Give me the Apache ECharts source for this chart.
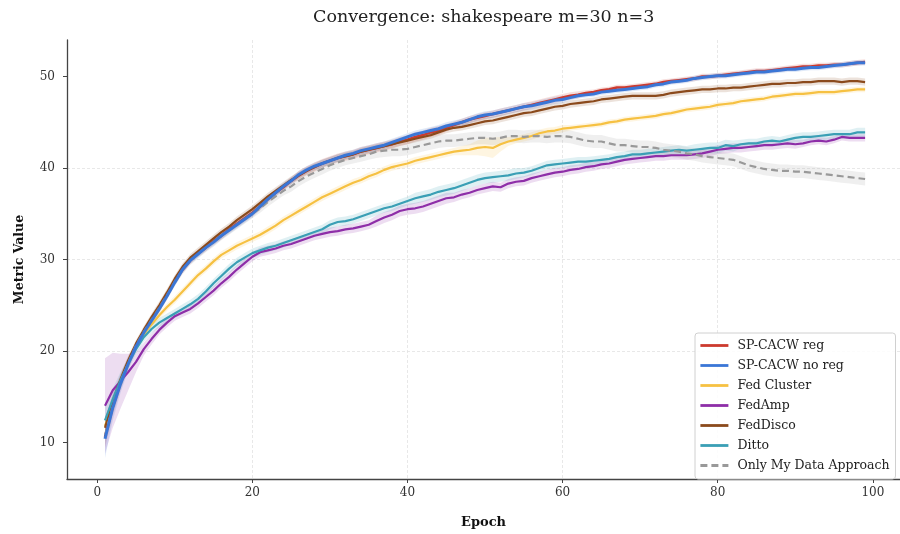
<!DOCTYPE html>
<html lang="en">
<head>
  <meta charset="UTF-8">
  <title>Convergence: shakespeare m=30 n=3</title>
  <script src="https://cdn.jsdelivr.net/npm/echarts@6/dist/echarts.min.js"></script>
  <style>
    html, body { margin: 0; padding: 0; background: #fff; }
    #chart { width: 900px; height: 534px; }
  </style>
</head>
<body>
  <div id="chart"></div>
<script>
  const epochs = [1,2,3,4,5,6,7,8,9,10,11,12,13,14,15,16,17,18,19,20,21,22,23,24,25,26,27,28,29,30,
    31,32,33,34,35,36,37,38,39,40,41,42,43,44,45,46,47,48,49,50,51,52,53,54,55,56,57,58,59,60,
    61,62,63,64,65,66,67,68,69,70,71,72,73,74,75,76,77,78,79,80,81,82,83,84,85,86,87,88,89,90,
    91,92,93,94,95,96,97,98,99];
  const xTicks = [0, 20, 40, 60, 80, 100];
  const yTicks = [10, 20, 30, 40, 50];

  // mean curves
  const spReg = [10.6,13.9,16.5,18.7,20.6,22.1,23.4,24.7,26.1,27.6,28.9,29.9,30.7,31.3,32.0,32.6,33.3,33.9,34.5,35.1,
    35.8,36.6,37.3,37.9,38.6,39.2,39.7,40.1,40.5,40.8,41.1,41.3,41.5,41.8,42.0,42.2,42.4,42.6,42.9,43.1,
    43.4,43.6,43.9,44.1,44.4,44.7,45.0,45.3,45.5,45.7,45.9,46.1,46.3,46.5,46.7,46.9,47.1,47.3,47.5,47.7,
    47.9,48.0,48.2,48.3,48.5,48.6,48.8,48.8,48.9,49.0,49.1,49.2,49.4,49.5,49.6,49.7,49.8,50.0,50.0,50.1,
    50.2,50.3,50.4,50.5,50.6,50.6,50.7,50.8,50.9,51.0,51.1,51.1,51.2,51.2,51.3,51.3,51.4,51.5,51.6];
  const spNoReg = [10.4,13.8,16.4,18.6,20.5,22.0,23.3,24.6,26.0,27.5,28.9,29.9,30.6,31.3,31.9,32.6,33.2,33.8,34.4,35.0,
    35.8,36.6,37.3,38.0,38.6,39.3,39.8,40.2,40.5,40.8,41.1,41.4,41.6,41.9,42.1,42.3,42.5,42.8,43.1,43.4,
    43.7,43.9,44.1,44.3,44.6,44.8,45.0,45.3,45.6,45.8,45.9,46.1,46.3,46.5,46.7,46.8,47.0,47.2,47.4,47.5,
    47.7,47.9,48.0,48.1,48.3,48.4,48.5,48.6,48.7,48.8,48.9,49.1,49.2,49.4,49.5,49.6,49.8,49.9,50.0,50.1,
    50.1,50.2,50.3,50.4,50.5,50.5,50.6,50.7,50.8,50.8,50.9,51.0,51.0,51.1,51.2,51.3,51.4,51.5,51.5];
  const fedCluster = [11.8,14.2,16.5,18.6,20.4,21.8,22.9,23.9,24.8,25.6,26.5,27.4,28.3,29.0,29.8,30.5,31.0,31.5,31.9,32.3,
    32.7,33.2,33.7,34.3,34.8,35.3,35.8,36.3,36.8,37.2,37.6,38.0,38.4,38.7,39.1,39.4,39.8,40.1,40.3,40.5,
    40.8,41.0,41.2,41.4,41.6,41.8,41.9,42.0,42.2,42.3,42.2,42.6,42.9,43.1,43.3,43.5,43.8,44.0,44.1,44.3,
    44.4,44.5,44.6,44.7,44.8,45.0,45.1,45.3,45.4,45.5,45.6,45.7,45.9,46.0,46.2,46.4,46.5,46.6,46.7,46.9,
    47.0,47.1,47.3,47.4,47.5,47.6,47.8,47.9,48.0,48.1,48.1,48.2,48.3,48.3,48.3,48.4,48.5,48.6,48.6];
  const fedAmp = [14.0,15.7,16.7,17.7,18.8,20.2,21.3,22.3,23.1,23.8,24.2,24.6,25.2,25.9,26.6,27.4,28.1,28.9,29.6,30.3,
    30.8,31.0,31.2,31.5,31.7,32.0,32.3,32.6,32.8,33.0,33.1,33.3,33.4,33.6,33.8,34.2,34.6,34.9,35.3,35.5,
    35.6,35.8,36.1,36.4,36.7,36.8,37.1,37.3,37.6,37.8,38.0,37.9,38.3,38.5,38.6,38.9,39.1,39.3,39.5,39.6,
    39.8,39.9,40.1,40.2,40.4,40.5,40.7,40.9,41.0,41.1,41.2,41.3,41.3,41.4,41.4,41.4,41.5,41.6,41.8,42.0,
    42.1,42.2,42.2,42.3,42.4,42.5,42.5,42.6,42.7,42.6,42.7,42.9,43.0,42.9,43.1,43.4,43.3,43.3,43.3];
  const fedDisco = [11.6,14.5,16.9,19.0,20.8,22.3,23.7,25.0,26.4,27.9,29.2,30.2,30.9,31.6,32.3,33.0,33.6,34.3,34.9,35.5,
    36.2,36.9,37.5,38.1,38.7,39.2,39.7,40.1,40.5,40.8,41.1,41.3,41.5,41.8,42.0,42.2,42.4,42.6,42.8,43.0,
    43.2,43.4,43.6,43.9,44.2,44.4,44.5,44.7,44.9,45.1,45.2,45.4,45.6,45.8,46.0,46.1,46.3,46.5,46.7,46.8,
    47.0,47.1,47.2,47.3,47.5,47.6,47.7,47.8,47.9,47.9,47.9,47.9,48.0,48.2,48.3,48.4,48.5,48.6,48.6,48.7,
    48.7,48.8,48.8,48.9,49.0,49.1,49.2,49.2,49.3,49.3,49.4,49.4,49.5,49.5,49.5,49.4,49.5,49.5,49.4];
  const ditto = [12.4,14.7,16.8,18.6,20.2,21.5,22.4,23.1,23.6,24.1,24.6,25.1,25.7,26.5,27.4,28.2,29.0,29.7,30.2,30.7,
    31.0,31.3,31.5,31.8,32.1,32.4,32.7,33.0,33.3,33.8,34.1,34.2,34.4,34.7,35.0,35.3,35.6,35.8,36.1,36.4,
    36.7,36.9,37.1,37.4,37.6,37.8,38.1,38.4,38.7,38.9,39.0,39.1,39.2,39.4,39.5,39.7,40.0,40.3,40.4,40.5,
    40.6,40.7,40.7,40.8,40.9,41.0,41.2,41.3,41.5,41.5,41.6,41.7,41.8,41.9,42.0,41.9,42.0,42.1,42.2,42.2,
    42.5,42.4,42.6,42.7,42.7,42.9,43.0,42.9,43.1,43.3,43.4,43.4,43.5,43.6,43.7,43.7,43.7,43.9,43.9];
  const onlyMine = [10.8,13.9,16.5,18.7,20.6,22.1,23.4,24.7,26.1,27.6,28.9,29.9,30.6,31.3,31.9,32.6,33.2,33.8,34.4,35.0,
    35.6,36.3,36.9,37.5,38.0,38.6,39.1,39.5,39.9,40.3,40.6,40.9,41.1,41.3,41.5,41.8,41.9,42.0,42.0,42.1,
    42.3,42.5,42.7,42.9,43.0,43.0,43.1,43.2,43.3,43.3,43.2,43.3,43.5,43.5,43.4,43.5,43.5,43.4,43.5,43.5,
    43.4,43.2,43.0,42.9,42.9,42.7,42.5,42.5,42.4,42.3,42.3,42.2,42.0,41.9,41.8,41.6,41.5,41.3,41.2,41.1,
    41.0,40.9,40.6,40.3,40.1,39.9,39.8,39.7,39.7,39.6,39.6,39.5,39.4,39.3,39.2,39.1,39.0,38.9,38.8];

  // spread (half width of shaded band)
  const stdReg = [1.2,1.0,0.8,0.6,0.5,0.4,0.4,0.4,0.4,0.4,0.4,0.4,0.4,0.4,0.4,0.4,0.4,0.4,0.4,0.4,
    0.4,0.4,0.4,0.4,0.4,0.5,0.5,0.5,0.5,0.5,0.5,0.5,0.5,0.5,0.5,0.5,0.5,0.5,0.5,0.5,
    0.5,0.5,0.5,0.5,0.4,0.4,0.4,0.4,0.4,0.4,0.4,0.4,0.4,0.4,0.4,0.4,0.4,0.4,0.4,0.4,
    0.4,0.4,0.3,0.3,0.3,0.3,0.3,0.3,0.3,0.3,0.3,0.3,0.3,0.3,0.3,0.3,0.3,0.3,0.3,0.3,
    0.3,0.3,0.3,0.3,0.3,0.3,0.3,0.3,0.3,0.3,0.3,0.3,0.3,0.3,0.3,0.3,0.3,0.3,0.3];
  const stdNoReg = [2.1,1.4,1.0,0.7,0.5,0.4,0.4,0.4,0.4,0.4,0.4,0.4,0.4,0.4,0.4,0.4,0.4,0.4,0.4,0.4,
    0.4,0.4,0.4,0.4,0.4,0.4,0.4,0.4,0.4,0.4,0.4,0.4,0.4,0.4,0.4,0.4,0.4,0.4,0.4,0.4,
    0.4,0.4,0.4,0.4,0.4,0.4,0.4,0.4,0.4,0.4,0.4,0.4,0.4,0.4,0.4,0.4,0.4,0.4,0.4,0.4,
    0.3,0.3,0.3,0.3,0.3,0.3,0.3,0.3,0.3,0.3,0.3,0.3,0.3,0.3,0.3,0.3,0.3,0.3,0.3,0.3,
    0.3,0.3,0.3,0.3,0.3,0.3,0.3,0.3,0.3,0.3,0.3,0.3,0.3,0.3,0.3,0.3,0.3,0.3,0.3];
  const stdCluster = [1.0,0.8,0.6,0.5,0.4,0.4,0.4,0.4,0.4,0.4,0.4,0.4,0.4,0.4,0.4,0.4,0.4,0.4,0.4,0.4,
    0.4,0.4,0.4,0.4,0.4,0.4,0.4,0.4,0.4,0.4,0.4,0.4,0.4,0.4,0.4,0.4,0.4,0.4,0.4,0.4,
    0.4,0.4,0.4,0.4,0.4,0.4,0.5,0.6,0.8,1.0,1.1,0.8,0.5,0.4,0.4,0.4,0.4,0.4,0.4,0.4,
    0.3,0.3,0.3,0.3,0.3,0.3,0.3,0.3,0.3,0.3,0.3,0.3,0.3,0.3,0.3,0.3,0.3,0.3,0.3,0.3,
    0.3,0.3,0.3,0.3,0.3,0.3,0.3,0.3,0.3,0.3,0.3,0.3,0.3,0.3,0.3,0.3,0.3,0.3,0.3];
  const stdAmp = [5.2,4.1,3.0,2.0,1.1,0.7,0.6,0.5,0.5,0.5,0.5,0.5,0.5,0.5,0.5,0.5,0.5,0.5,0.5,0.5,
    0.5,0.5,0.5,0.5,0.5,0.5,0.5,0.5,0.5,0.5,0.5,0.5,0.5,0.5,0.5,0.6,0.6,0.6,0.6,0.6,
    0.6,0.6,0.6,0.6,0.6,0.5,0.5,0.5,0.5,0.5,0.5,0.5,0.5,0.5,0.5,0.5,0.5,0.5,0.5,0.5,
    0.5,0.5,0.5,0.5,0.5,0.5,0.5,0.5,0.5,0.5,0.5,0.5,0.5,0.5,0.5,0.5,0.5,0.5,0.5,0.5,
    0.5,0.5,0.5,0.5,0.5,0.5,0.5,0.5,0.5,0.5,0.4,0.4,0.4,0.4,0.4,0.4,0.4,0.4,0.4];
  const stdDisco = [1.0,0.8,0.6,0.5,0.4,0.4,0.4,0.4,0.4,0.4,0.4,0.4,0.4,0.4,0.4,0.4,0.4,0.4,0.4,0.4,
    0.4,0.4,0.4,0.4,0.4,0.4,0.4,0.4,0.4,0.4,0.4,0.4,0.4,0.4,0.4,0.4,0.4,0.4,0.4,0.4,
    0.4,0.4,0.4,0.4,0.4,0.4,0.4,0.4,0.4,0.4,0.4,0.4,0.4,0.4,0.4,0.4,0.4,0.4,0.4,0.4,
    0.4,0.4,0.4,0.4,0.4,0.4,0.4,0.4,0.4,0.4,0.4,0.4,0.4,0.4,0.4,0.4,0.4,0.4,0.4,0.4,
    0.4,0.4,0.4,0.4,0.4,0.4,0.4,0.4,0.4,0.4,0.4,0.4,0.4,0.4,0.4,0.4,0.4,0.4,0.4];
  const stdDitto = [1.6,1.2,0.9,0.6,0.5,0.5,0.5,0.5,0.5,0.5,0.5,0.5,0.5,0.5,0.5,0.5,0.5,0.5,0.5,0.5,
    0.5,0.5,0.5,0.5,0.5,0.5,0.5,0.5,0.5,0.5,0.5,0.5,0.5,0.5,0.5,0.5,0.5,0.5,0.5,0.5,
    0.6,0.6,0.6,0.6,0.6,0.6,0.6,0.6,0.6,0.6,0.6,0.6,0.6,0.6,0.5,0.5,0.5,0.5,0.5,0.5,
    0.5,0.5,0.5,0.5,0.5,0.5,0.5,0.5,0.5,0.5,0.5,0.5,0.5,0.5,0.5,0.5,0.6,0.6,0.6,0.6,
    0.6,0.6,0.5,0.5,0.5,0.5,0.5,0.5,0.5,0.5,0.5,0.5,0.5,0.5,0.5,0.5,0.5,0.5,0.5];
  const stdOnlyMine = [1.0,0.8,0.6,0.5,0.5,0.5,0.5,0.5,0.5,0.5,0.5,0.5,0.5,0.5,0.5,0.5,0.5,0.5,0.5,0.5,
    0.5,0.5,0.5,0.5,0.6,0.6,0.6,0.6,0.6,0.6,0.6,0.6,0.6,0.6,0.6,0.7,0.7,0.7,0.7,0.7,
    0.7,0.7,0.7,0.7,0.7,0.7,0.7,0.7,0.7,0.7,0.7,0.7,0.7,0.7,0.7,0.7,0.7,0.7,0.7,0.7,
    0.7,0.7,0.7,0.7,0.7,0.7,0.7,0.7,0.7,0.7,0.7,0.7,0.7,0.7,0.7,0.7,0.7,0.7,0.7,0.7,
    0.7,0.7,0.7,0.7,0.7,0.7,0.7,0.7,0.7,0.7,0.7,0.7,0.7,0.7,0.7,0.7,0.7,0.7,0.7];

  const legendOrder = ['SP-CACW reg', 'SP-CACW no reg', 'Fed Cluster', 'FedAmp', 'FedDisco', 'Ditto', 'Only My Data Approach'];

  // drawing order: blue last so it sits on top
  const methods = [
    { name: 'SP-CACW reg', mean: spReg, std: stdReg, color: '#cc3a2e', width: 2.6 },
    { name: 'Fed Cluster', mean: fedCluster, std: stdCluster, color: '#f6c142', width: 2.2 },
    { name: 'FedAmp', mean: fedAmp, std: stdAmp, color: '#8e2ea8', width: 2.2 },
    { name: 'FedDisco', mean: fedDisco, std: stdDisco, color: '#8b4a1c', width: 2.2 },
    { name: 'Ditto', mean: ditto, std: stdDitto, color: '#3a9fb5', width: 2.2 },
    { name: 'Only My Data Approach', mean: onlyMine, std: stdOnlyMine, color: '#999999', width: 2.2, dash: [7, 4] },
    { name: 'SP-CACW no reg', mean: spNoReg, std: stdNoReg, color: '#3a76d6', width: 3 }
  ];

  const serif = 'DejaVu Serif';

  function bandSeries(m) {
    return {
      type: 'custom',
      name: 'band ' + m.name,
      silent: true,
      z: 1,
      data: epochs.map((e, i) => [e, m.mean[i] - m.std[i], m.mean[i] + m.std[i]]),
      encode: { x: 0, y: [1, 2] },
      renderItem: (params, api) => {
        if (params.dataIndex !== 0) return null;
        const pts = [];
        for (let i = 0; i < epochs.length; i++) pts.push(api.coord([epochs[i], m.mean[i] - m.std[i]]));
        for (let i = epochs.length - 1; i >= 0; i--) pts.push(api.coord([epochs[i], m.mean[i] + m.std[i]]));
        return { type: 'polygon', shape: { points: pts }, style: { fill: m.color, opacity: 0.16 } };
      }
    };
  }

  function lineSeries(m, idx) {
    return {
      type: 'line',
      name: m.name,
      data: epochs.map((e, i) => [e, m.mean[i]]),
      symbol: 'none',
      showSymbol: false,
      z: 3 + idx,
      lineStyle: { color: m.color, width: m.width, type: m.dash || 'solid' },
      itemStyle: { color: m.color }
    };
  }

  const chart = echarts.init(document.getElementById('chart'));
  chart.setOption({
    animation: false,
    title: {
      text: 'Convergence: shakespeare m=30 n=3',
      left: 308,
      top: 3,
      textStyle: { fontFamily: serif, fontSize: 17.5, fontWeight: 'normal', color: '#222' }
    },
    grid: { left: 67, right: 0, top: 40, bottom: 54.5 },
    legend: {
      data: legendOrder,
      orient: 'vertical',
      left: 695,
      top: 333,
      align: 'left',
      itemWidth: 28,
      itemHeight: 12,
      itemGap: 7,
      padding: [6, 6, 7, 4],
      borderColor: '#d0d0d0',
      borderWidth: 1,
      borderRadius: 3,
      backgroundColor: 'rgba(255,255,255,0.85)',
      itemStyle: { opacity: 0 },
      lineStyle: { width: 2.8 },
      textStyle: { fontFamily: serif, fontSize: 12.5, color: '#222', padding: [0, 0, 0, 4] }
    },
    xAxis: {
      type: 'value',
      min: -3.9,
      max: 103.5,
      name: 'Epoch',
      nameLocation: 'middle',
      nameGap: 37,
      nameTextStyle: { fontFamily: serif, fontSize: 13, fontWeight: 'bold', color: '#111' },
      axisLine: { onZero: false, lineStyle: { color: '#444', width: 1.3 } },
      axisTick: { customValues: xTicks, length: 4, lineStyle: { color: '#444' } },
      axisLabel: { customValues: xTicks, margin: 8, fontFamily: serif, fontSize: 12, color: '#333' },
      splitLine: { show: true, showMinLine: false, showMaxLine: false, lineStyle: { color: '#e2e2e2', type: [3, 2], width: 0.8 } }
    },
    yAxis: {
      type: 'value',
      min: 6,
      max: 54,
      name: 'Metric Value',
      nameLocation: 'middle',
      nameGap: 41,
      nameTextStyle: { fontFamily: serif, fontSize: 12.5, fontWeight: 'bold', color: '#111' },
      axisLine: { show: true, onZero: false, lineStyle: { color: '#444', width: 1.3 } },
      axisTick: { show: true, customValues: yTicks, length: 4, lineStyle: { color: '#444' } },
      axisLabel: { customValues: yTicks, margin: 12, fontFamily: serif, fontSize: 12, color: '#333' },
      splitLine: { show: true, showMinLine: false, showMaxLine: false, lineStyle: { color: '#e2e2e2', type: [3, 2], width: 0.8 } }
    },
    series: methods.map(bandSeries).concat(methods.map(lineSeries))
  });
</script>
</body>
</html>
